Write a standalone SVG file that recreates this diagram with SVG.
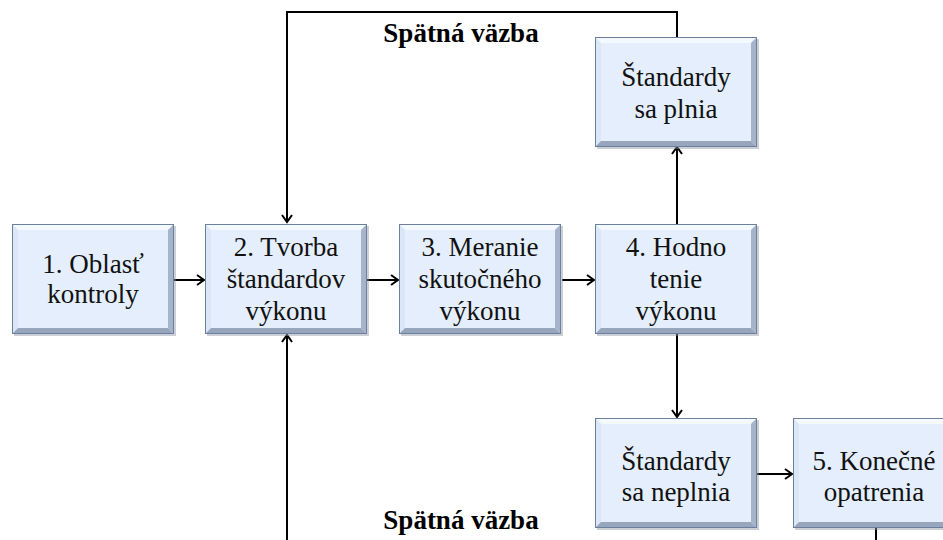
<svg xmlns="http://www.w3.org/2000/svg" xmlns:xlink="http://www.w3.org/1999/xlink" width="943" height="540" viewBox="0 0 943 540">
  <style>
    .lbl { font-family: "Liberation Serif", "Times New Roman", serif; font-size: 27px; fill: #111; text-anchor: middle; }
    .fb { font-family: "Liberation Serif", "Times New Roman", serif; font-size: 27px; font-weight: bold; fill: #000; text-anchor: middle; }
    .wire { fill: none; stroke: #000; stroke-width: 2; }
    .arrow { marker-end: url(#head); }
  </style>
  <defs>
    <marker id="head" markerWidth="12" markerHeight="12" refX="9" refY="6" orient="auto" markerUnits="userSpaceOnUse">
      <path d="M2,1 L9,6 L2,11" fill="none" stroke="#000" stroke-width="2"/>
    </marker>
    <!-- bevelled box, 162 x 110 -->
    <g id="box">
      <rect x="2" y="2" width="162" height="110" fill="#8e97a4" opacity="0.45"/>
      <rect x="0" y="0" width="162" height="110" fill="#e4eefc"/>
      <polygon points="0,0 162,0 156,6 6,6" fill="#f4f8ff"/>
      <polygon points="0,0 6,6 6,104 0,110" fill="#dbe6f6"/>
      <polygon points="162,0 162,110 156,104 156,6" fill="#a6b4c9"/>
      <polygon points="0,110 6,104 156,104 162,110" fill="#97a6bd"/>
      <rect x="6" y="6" width="150" height="98" fill="#e4eefc"/>
      <rect x="0.5" y="0.5" width="161" height="109" fill="none" stroke="#6c7f9c" stroke-width="1"/>
    </g>
  </defs>

  <g id="connectors">
    <polyline class="wire arrow" points="677,37 677,12 287,12 287,222"/>
    <polyline class="wire arrow" points="287,540 287,335"/>
    <line class="wire arrow" x1="173" y1="280" x2="204" y2="280"/>
    <line class="wire arrow" x1="367" y1="280" x2="398" y2="280"/>
    <line class="wire arrow" x1="562" y1="280" x2="594" y2="280"/>
    <line class="wire arrow" x1="677" y1="224" x2="677" y2="147"/>
    <line class="wire arrow" x1="677" y1="333" x2="677" y2="417"/>
    <line class="wire arrow" x1="757" y1="474" x2="792" y2="474"/>
    <line class="wire" x1="876" y1="528" x2="876" y2="540"/>
  </g>

  <g id="feedback-labels">
    <text class="fb" x="461" y="42">Spätná väzba</text>
    <text class="fb" x="461" y="529">Spätná väzba</text>
  </g>

  <g id="n1">
    <use xlink:href="#box" x="12" y="224"/>
    <text class="lbl" x="93" y="273">1. Oblasť</text>
    <text class="lbl" x="93" y="303">kontroly</text>
  </g>
  <g id="n2">
    <use xlink:href="#box" x="205" y="224"/>
    <text class="lbl" x="286" y="256">2. Tvorba</text>
    <text class="lbl" x="286" y="288">štandardov</text>
    <text class="lbl" x="286" y="320">výkonu</text>
  </g>
  <g id="n3">
    <use xlink:href="#box" x="399" y="224"/>
    <text class="lbl" x="480" y="256">3. Meranie</text>
    <text class="lbl" x="480" y="288">skutočného</text>
    <text class="lbl" x="480" y="320">výkonu</text>
  </g>
  <g id="n4">
    <use xlink:href="#box" x="595" y="224"/>
    <text class="lbl" x="676" y="256">4. Hodno</text>
    <text class="lbl" x="676" y="288">tenie</text>
    <text class="lbl" x="676" y="320">výkonu</text>
  </g>
  <g id="n-plnia">
    <use xlink:href="#box" x="595" y="37"/>
    <text class="lbl" x="676" y="86">Štandardy</text>
    <text class="lbl" x="676" y="118">sa plnia</text>
  </g>
  <g id="n-neplnia">
    <use xlink:href="#box" x="595" y="418"/>
    <text class="lbl" x="676" y="470">Štandardy</text>
    <text class="lbl" x="676" y="501">sa neplnia</text>
  </g>
  <g id="n5">
    <use xlink:href="#box" x="793" y="418"/>
    <text class="lbl" x="874" y="470">5. Konečné</text>
    <text class="lbl" x="874" y="501">opatrenia</text>
  </g>
</svg>
